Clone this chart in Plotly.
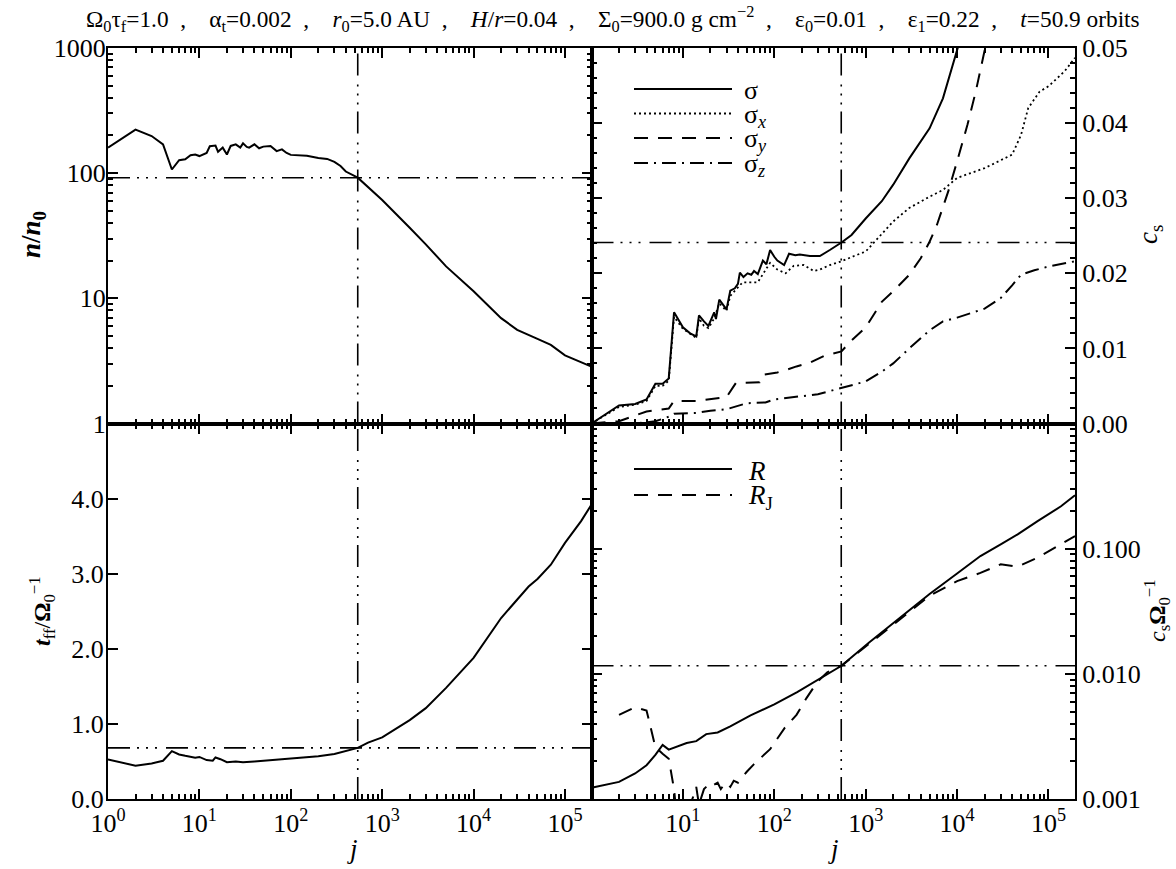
import numpy as np
import plotly.graph_objects as go
from plotly.subplots import make_subplots

FONT = "Liberation Serif, Times New Roman, serif"

# ---------------- data ----------------
J_MAX = 1.95e5          # right end of the j axis
J_MARK = 540            # vertical reference line

# top-left: n/n0 versus j
n_j = [1, 2, 3, 4, 5, 6, 7, 8, 9, 10, 12, 13, 15, 16, 18, 20, 22, 25, 28, 30, 33, 35, 40, 45,
       50, 60, 70, 80, 90, 100, 150, 200, 250, 300, 350, 400, 540, 700, 1000, 2000, 3000,
       5000, 1e4, 2e4, 3e4, 5e4, 7e4, 1e5, 1.95e5]
n_val = [160, 223, 198, 170, 107, 127, 129, 139, 141, 137, 145, 164, 166, 148, 160, 141, 165,
         170, 160, 173, 162, 160, 170, 158, 163, 165, 150, 155, 145, 140, 138, 132, 130, 123,
         114, 103, 92, 77, 61, 36.6, 27, 18, 11.4, 6.95, 5.6, 4.75, 4.25, 3.5, 2.85]
N_MARK = 92

# bottom-left: t_ff / Omega0^-1 versus j
t_j = [1, 2, 3, 4, 5, 6, 7, 8, 9, 10, 12, 14, 15, 17, 20, 25, 30, 40, 50, 70, 100, 150, 200,
       300, 400, 540, 700, 1000, 2000, 3000, 5000, 1e4, 2e4, 3e4, 4e4, 5e4, 7e4, 1e5, 1.5e5,
       1.95e5]
t_val = [0.527, 0.443, 0.474, 0.509, 0.637, 0.593, 0.575, 0.56, 0.549, 0.56, 0.518, 0.51,
         0.553, 0.53, 0.49, 0.50, 0.49, 0.50, 0.51, 0.52, 0.54, 0.56, 0.57, 0.60, 0.64, 0.68,
         0.75, 0.82, 1.05, 1.21, 1.48, 1.88, 2.41, 2.65, 2.83, 2.93, 3.12, 3.41, 3.70, 3.92]
T_MARK = 0.681

# top-right: velocity dispersions (c_s units)
sig_j = [1, 2, 3, 4, 5, 6, 7, 8, 10, 12, 14, 15, 17, 19, 22, 23, 25, 30, 33, 37, 40, 42, 46,
         51, 56, 60, 66, 75, 82, 90, 100, 108, 128, 145, 170, 190, 245, 315, 405, 543, 700,
         1000, 1500, 2000, 3000, 5000, 7000, 1e4, 1.2e4]
sig_val = [0.0, 0.0024, 0.0026, 0.0032, 0.0053, 0.0053, 0.006, 0.0148, 0.0128, 0.0120,
           0.0116, 0.0144, 0.0136, 0.0130, 0.0148, 0.0139, 0.0165, 0.0152, 0.0177, 0.0180,
           0.0186, 0.0201, 0.0195, 0.0200, 0.0198, 0.0203, 0.0199, 0.0217, 0.0212, 0.0231,
           0.0222, 0.0217, 0.0211, 0.0226, 0.0224, 0.0225, 0.0223, 0.0223, 0.0231, 0.0241,
           0.0251, 0.0273, 0.0296, 0.0318, 0.0353, 0.0393, 0.0433, 0.0496, 0.0530]

sigx_j = [1, 2, 3, 4, 5, 6, 7, 8, 10, 12, 14, 15, 17, 19, 22, 25, 30, 33, 40, 45, 51, 66, 77,
          90, 108, 133, 163, 210, 270, 315, 405, 543, 745, 1000, 2000, 3000, 5000, 7000, 1e4,
          2e4, 4e4, 5e4, 6e4, 8e4, 1e5, 1.5e5, 1.95e5]
sigx_val = [0.0, 0.0022, 0.0025, 0.0030, 0.0050, 0.0050, 0.0057, 0.0142, 0.0126, 0.0119,
            0.0114, 0.0140, 0.0130, 0.0127, 0.0140, 0.0160, 0.0150, 0.0170, 0.0182, 0.0188,
            0.0188, 0.0188, 0.0201, 0.0214, 0.0205, 0.0200, 0.0210, 0.0211, 0.0203, 0.0205,
            0.0211, 0.0216, 0.0223, 0.0229, 0.0269, 0.0287, 0.0302, 0.0311, 0.0327, 0.0340,
            0.0358, 0.0384, 0.0420, 0.0442, 0.0449, 0.0469, 0.0487]

sigy_j = [1, 2, 4, 7, 8, 14, 25, 30, 38, 69, 75, 108, 133, 175, 245, 350, 543, 690, 1000,
          1170, 1500, 2000, 3000, 4000, 5000, 6000, 7000, 8000, 1e4, 1.3e4, 1.6e4, 2e4, 2.2e4]
sigy_val = [0.0, 0.0003, 0.0016, 0.0020, 0.0030, 0.0030, 0.0034, 0.0035, 0.0054, 0.0055,
            0.0065, 0.0068, 0.0071, 0.0076, 0.0081, 0.0090, 0.0096, 0.0110, 0.0128, 0.0141,
            0.0162, 0.0176, 0.0198, 0.0220, 0.0242, 0.0264, 0.0287, 0.0309, 0.0349, 0.0398,
            0.0442, 0.0496, 0.0520]

sigz_j = [1, 3, 5, 7, 8, 14, 20, 30, 50, 80, 100, 200, 300, 400, 543, 700, 1000, 1500, 2000,
          3000, 5000, 7000, 1e4, 2e4, 3e4, 4e4, 5e4, 7e4, 1e5, 1.95e5]
sigz_val = [0.0, 0.0, 0.0003, 0.0009, 0.0013, 0.0014, 0.0017, 0.0019, 0.0027, 0.0028, 0.0032,
            0.0036, 0.0039, 0.0043, 0.0047, 0.0051, 0.0056, 0.0069, 0.0080, 0.0100, 0.0124,
            0.0136, 0.0141, 0.0153, 0.0167, 0.0184, 0.0198, 0.0204, 0.0209, 0.0216]
CS_MARK = 0.0241

# bottom-right: radius R and Jeans radius R_J (c_s / Omega0 units)
r_j = [1, 2, 3, 4, 5, 6, 7, 9, 11, 14, 18, 24, 33, 55, 100, 178, 295, 543, 1090, 2000, 5000,
       1e4, 1.8e4, 3e4, 4.6e4, 7.6e4, 1.37e5, 1.95e5]
r_val = [0.00123, 0.00137, 0.00160, 0.00186, 0.00225, 0.0027, 0.00248, 0.00264, 0.0028,
         0.0029, 0.0033, 0.0034, 0.0038, 0.00466, 0.0057, 0.00714, 0.00885, 0.0116, 0.0178,
         0.0253, 0.0434, 0.0633, 0.0873, 0.108, 0.130, 0.166, 0.218, 0.267]

rj_j = [2, 3, 4, 5, 6, 7, 8, 9, 10, 11, 12, 13, 14, 15, 16, 17, 18, 20, 22, 24, 26, 28, 30,
        33, 36, 40, 45, 50, 60, 70, 80, 90, 100, 130, 175, 225, 295, 380, 543, 1000, 2000,
        5000, 1e4, 1.8e4, 3e4, 4.6e4, 7.6e4, 1.37e5, 1.95e5]
rj_val = [0.0047, 0.0054, 0.0051, 0.0026, 0.0023, 0.0021, 0.0012, 0.0005, 0.0004, 0.0006,
          0.0009, 0.00105, 0.00125, 0.0009, 0.00105, 0.0012, 0.00125, 0.00135, 0.0013,
          0.00135, 0.0012, 0.0013, 0.00135, 0.00125, 0.0014, 0.00135, 0.0015, 0.00165,
          0.0019, 0.0021, 0.0023, 0.0025, 0.0028, 0.0037, 0.0047, 0.0064, 0.0086, 0.0103,
          0.0116, 0.0165, 0.0250, 0.0420, 0.0550, 0.0640, 0.0750, 0.0718, 0.0847, 0.108, 0.126]
R_MARK = 0.0116

# tick labels
x_tickvals = [1, 10, 100, 1000, 1e4, 1e5]
x_ticktext = ["10<sup>0</sup>", "10<sup>1</sup>", "10<sup>2</sup>", "10<sup>3</sup>",
              "10<sup>4</sup>", "10<sup>5</sup>"]
x_ticktext_right = [""] + x_ticktext[1:]      # 10^0 is hidden under the left panel's 10^5
n_tickvals = [1, 10, 100, 1000]
n_ticktext = ["1", "10", "100", "1000"]
t_tickvals = [0, 1, 2, 3, 4]
t_ticktext = ["0.0", "1.0", "2.0", "3.0", "4.0"]
cs_tickvals = [0, 0.01, 0.02, 0.03, 0.04, 0.05]
cs_ticktext = ["0.00", "0.01", "0.02", "0.03", "0.04", "0.05"]
r_tickvals = [0.001, 0.01, 0.1]
r_ticktext = ["0.001", "0.010", "0.100"]

SEP = "&nbsp;&nbsp;,&nbsp;&nbsp;&nbsp;&nbsp;"
TITLE = SEP.join([
    "Ω<sub>0</sub>τ<sub>f</sub>=1.0",
    "α<sub>t</sub>=0.002",
    "<i>r</i><sub>0</sub>=5.0 AU",
    "<i>H</i>/<i>r</i>=0.04",
    "Σ<sub>0</sub>=900.0 g cm<sup>−2</sup>",
    "ε<sub>0</sub>=0.01",
    "ε<sub>1</sub>=0.22",
    "<i>t</i>=50.9 orbits",
])


def log_minor_vals(lo_exp, hi_exp):
    return [k * 10.0 ** p for p in range(lo_exp, hi_exp) for k in range(2, 10)]


x_minor = [v for v in log_minor_vals(0, 6) if v <= J_MAX]
n_minor = log_minor_vals(0, 3)
r_minor = log_minor_vals(-3, 0)
cs_minor = [round(0.002 * k, 4) for k in range(1, 25) if k % 5]

# ---------------- styles ----------------
REF_DASH = "22px,7px,2px,7px,2px,7px,2px,9px"
DOT = "2px,3px"
DASH = "14px,10px"
DASHDOT = "14px,6px,2px,6px"
LW = 2
TICKC = "black"

fig = make_subplots(rows=2, cols=2, horizontal_spacing=0, vertical_spacing=0)


def line(x, y, dash="solid", width=LW, row=1, col=1):
    fig.add_trace(go.Scatter(x=x, y=y, mode="lines", showlegend=False,
                             line=dict(color="black", width=width, dash=dash)),
                  row=row, col=col)


line(n_j, n_val, row=1, col=1)
line(t_j, t_val, row=2, col=1)
line(sig_j, sig_val, row=1, col=2)
line(sigx_j, sigx_val, dash=DOT, width=1.8, row=1, col=2)
line(sigy_j, sigy_val, dash=DASH, row=1, col=2)
line(sigz_j, sigz_val, dash=DASHDOT, row=1, col=2)
line(r_j, r_val, row=2, col=2)
line(rj_j, rj_val, dash=DASH, row=2, col=2)

# reference lines
ref_h = [("y", N_MARK), ("y2", CS_MARK), ("y3", T_MARK), ("y4", R_MARK)]
xnames = ["x", "x2", "x3", "x4"]
for (yn, val), xn in zip(ref_h, xnames):
    fig.add_shape(type="line", xref=xn + " domain", yref=yn, x0=0, x1=1, y0=val, y1=val,
                  line=dict(color="black", width=1.6, dash=REF_DASH))
    fig.add_shape(type="line", xref=xn, yref=yn + " domain", x0=J_MARK, x1=J_MARK, y0=0, y1=1,
                  line=dict(color="black", width=1.6, dash=REF_DASH))

tickfont = dict(family=FONT, size=26, color="black")
common = dict(showline=True, linewidth=2, linecolor="black", mirror="allticks",
              ticks="inside", ticklen=10, tickwidth=2, tickcolor=TICKC,
              showgrid=False, zeroline=False, tickfont=tickfont)


def minor(vals):
    return dict(tickmode="array", tickvals=vals, ticks="inside", ticklen=5, tickwidth=1.5,
                tickcolor=TICKC, showgrid=False)


xr = [0, np.log10(J_MAX)]
for i, xn in enumerate(["xaxis", "xaxis2", "xaxis3", "xaxis4"]):
    fig.layout[xn].update(type="log", range=xr, tickmode="array", tickvals=x_tickvals,
                          ticktext=(x_ticktext_right if i == 3 else x_ticktext),
                          showticklabels=(i >= 2), minor=minor(x_minor), **common)

fig.layout.yaxis.update(type="log", range=[0, 3], tickmode="array", tickvals=n_tickvals,
                        ticktext=n_ticktext, minor=minor(n_minor), ticklabelstandoff=-5,
                        **common)
fig.layout.yaxis3.update(range=[0, 5], tickmode="array", tickvals=t_tickvals,
                         ticktext=t_ticktext, ticklabelstandoff=-3, **common)
fig.layout.yaxis2.update(range=[0, 0.05], side="right", tickmode="array",
                         tickvals=cs_tickvals, ticktext=cs_ticktext, minor=minor(cs_minor),
                         **common)
fig.layout.yaxis4.update(type="log", range=[-3, 0], side="right", tickmode="array",
                         tickvals=r_tickvals, ticktext=r_ticktext, minor=minor(r_minor),
                         **common)

W, H = 1176, 869
L, R, T, B = 108, 101, 48, 70
PW, PH = W - L - R, H - T - B


def px(xp):
    return (xp - L) / PW


def py(yp):
    return 1 - (yp - T) / PH


ann = []


def text(s, x, y, size, angle=0, xanchor="center", yanchor="middle"):
    ann.append(dict(text=s, x=px(x), y=py(y), xref="paper", yref="paper", showarrow=False,
                    textangle=angle, xanchor=xanchor, yanchor=yanchor,
                    font=dict(family=FONT, size=size, color="black")))


text(TITLE, 613, 19, 23.3)
text("<b><i>n</i>/<i>n</i><sub>0</sub></b>", 33, 235, 27, angle=-90)
text("<b><i>t</i></b><sub>ff</sub>/<b>Ω</b><sub>0</sub><sup>−1</sup>", 42, 611, 24, angle=-90)
text("<i>c</i><sub>s</sub>", 1150, 235, 27, angle=-90)
text("<i>c</i><sub>s</sub><b>Ω</b><sub>0</sub><sup>−1</sup>", 1157, 611, 24, angle=-90)
text("<i>j</i>", 352, 849, 27)
text("<i>j</i>", 833, 849, 27)

# legends (keys drawn as short sample lines beside the labels)
leg1 = [("σ", "solid"), ("σ<sub><i>x</i></sub>", DOT), ("σ<sub><i>y</i></sub>", DASH),
        ("σ<sub><i>z</i></sub>", DASHDOT)]
leg1_y = [89, 113.5, 138, 163]
for (lab, d), yy in zip(leg1, leg1_y):
    fig.add_shape(type="line", xref="paper", yref="paper", x0=px(634), x1=px(732),
                  y0=py(yy), y1=py(yy), line=dict(color="black", width=LW, dash=d))
    text(lab, 742, yy + 2, 26, xanchor="left")

leg2 = [("<i>R</i>", "solid"), ("<i>R</i><sub>J</sub>", DASH)]
leg2_y = [469, 495]
for (lab, d), yy in zip(leg2, leg2_y):
    fig.add_shape(type="line", xref="paper", yref="paper", x0=px(634), x1=px(732),
                  y0=py(yy), y1=py(yy), line=dict(color="black", width=LW, dash=d))
    text(lab, 746, yy + 2, 27, xanchor="left")

fig.update_layout(width=W, height=H, margin=dict(l=L, r=R, t=T, b=B),
                  paper_bgcolor="white", plot_bgcolor="white", showlegend=False,
                  annotations=ann, font=dict(family=FONT, color="black"))

fig.write_html("out.html", config={"displayModeBar": False},
               post_script="document.body.style.margin='0px';")
